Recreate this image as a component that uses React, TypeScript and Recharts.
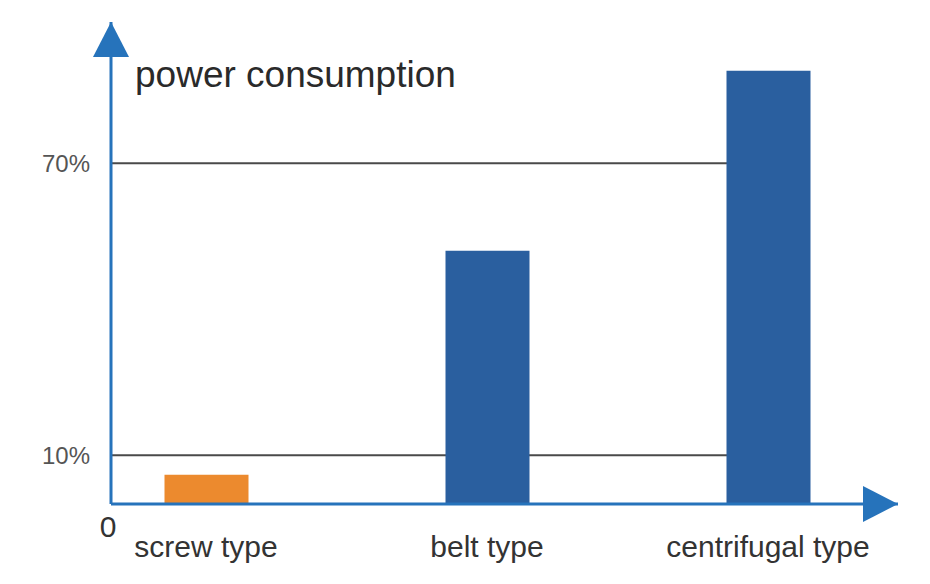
import React from 'react';
import { BarChart, Bar, XAxis, YAxis, CartesianGrid, Cell } from 'recharts';

document.body.style.margin = '0';

const categories = ['screw type', 'belt type', 'centrifugal type'];
const consumption = [6, 52, 89];
const yTicks = [0, 10, 70];
const guideLevels = [10, 70];

const BAR_COLORS = ['#ec8a2e', '#2a5f9f', '#2a5f9f'];
const AXIS_BLUE = '#2673bb';

const W = 930;
const H = 584;
const MARGIN = { top: 22, right: 32, left: 0, bottom: 0 };
const Y_AXIS_W = 111;
const X_AXIS_H = 80;
const X_PAD = { left: 95, right: 130 };
const Y_MAX = 99;
const PLOT_LEFT = MARGIN.left + Y_AXIS_W;
const PLOT_TOP = MARGIN.top;
const PLOT_H = H - MARGIN.top - X_AXIS_H;

const data = categories.map((name, i) => ({ idx: i, name, value: consumption[i] }));

const YTick = ({ x, y, payload }: any) => {
  if (payload.value === 0) {
    return (
      <text x={PLOT_LEFT - 3} y={y + 33} textAnchor="middle" fontSize={30} fill="#333">
        0
      </text>
    );
  }
  return (
    <text x={x} y={y} dominantBaseline="central" textAnchor="end" fontSize={24} fill="#555">
      {payload.value}%
    </text>
  );
};

const YArrow = ({ viewBox }: any) => {
  const right = viewBox ? viewBox.x + viewBox.width : PLOT_LEFT;
  const top = viewBox ? viewBox.y : PLOT_TOP;
  return (
    <g>
      <polygon points={`${right},${top} ${right - 18},${top + 35} ${right + 18},${top + 35}`} fill={AXIS_BLUE} />
      <text x={right + 24} y={top + 65} fontSize={37} fill="#2a2a2a">
        power consumption
      </text>
    </g>
  );
};

const XArrow = ({ viewBox }: any) => {
  const right = viewBox ? viewBox.x + viewBox.width : W - MARGIN.right;
  const y = viewBox ? viewBox.y : H - X_AXIS_H;
  return <polygon points={`${right},${y} ${right - 35},${y - 18} ${right - 35},${y + 18}`} fill={AXIS_BLUE} />;
};

// guide lines run from the y axis to the last bar, under the bars
const guideCoords = ({ yAxis }: any) =>
  guideLevels.map((v) =>
    yAxis && typeof yAxis.scale === 'function' ? yAxis.scale(v) : PLOT_TOP + PLOT_H * (1 - v / Y_MAX)
  );

const GuideLine = (p: any) => (
  <line key={p.key} x1={PLOT_LEFT} y1={p.y1} x2={p.x2 - X_PAD.right} y2={p.y2} stroke="#4a4a4a" strokeWidth={2} />
);

export default function App() {
  return (
    <div style={{ width: W, height: H, fontFamily: '"Liberation Sans", Arial, sans-serif', background: '#fff' }}>
      <BarChart width={W} height={H} data={data} margin={MARGIN}>
        <CartesianGrid
          vertical={false}
          horizontalCoordinatesGenerator={guideCoords}
          horizontal={GuideLine}
        />
        <XAxis
          dataKey="idx"
          type="number"
          domain={[0, categories.length - 1]}
          ticks={data.map((d) => d.idx)}
          tickFormatter={(i: number) => categories[i]}
          padding={X_PAD}
          height={X_AXIS_H}
          axisLine={{ stroke: AXIS_BLUE, strokeWidth: 3 }}
          tickLine={false}
          tickSize={0}
          tickMargin={32}
          tick={{ fontSize: 30, fill: '#333' }}
          label={{ content: XArrow }}
        />
        <YAxis
          width={Y_AXIS_W}
          domain={[0, Y_MAX]}
          ticks={yTicks}
          interval={0}
          allowDataOverflow
          axisLine={{ stroke: AXIS_BLUE, strokeWidth: 3 }}
          tickLine={false}
          tickSize={0}
          tickMargin={21}
          tick={<YTick />}
          label={{ content: YArrow }}
        />
        <Bar dataKey="value" barSize={84} isAnimationActive={false}>
          {data.map((d, i) => (
            <Cell key={d.name} fill={BAR_COLORS[i]} />
          ))}
        </Bar>
      </BarChart>
    </div>
  );
}
